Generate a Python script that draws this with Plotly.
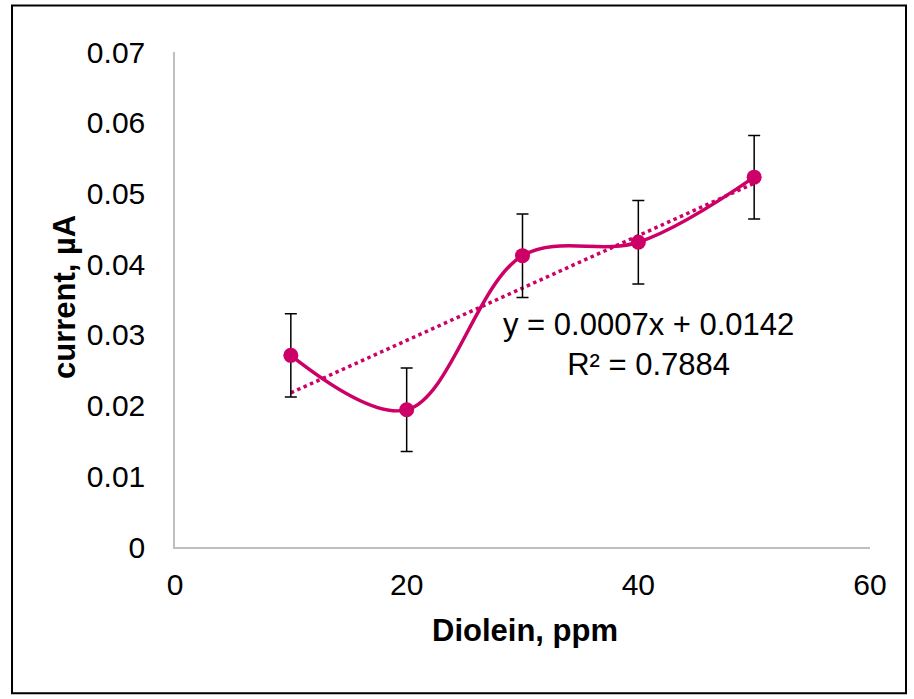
import numpy as np
import plotly.graph_objects as go

x_ppm = [10, 20, 30, 40, 50]
current = [0.0271, 0.0194, 0.0412, 0.0431, 0.0523]
err = [0.0059, 0.0059, 0.0059, 0.0059, 0.0059]
y_ticks = [0, 0.01, 0.02, 0.03, 0.04, 0.05, 0.06, 0.07]
y_ticktext = ["0", "0.01", "0.02", "0.03", "0.04", "0.05", "0.06", "0.07"]
x_ticks = [0, 20, 40, 60]

color = "#CC0066"
font = "Liberation Sans, Arial, sans-serif"

slope, intercept = np.polyfit(x_ppm, current, 1)
trend_x = [x_ppm[0], x_ppm[-1]]
trend_y = [slope * v + intercept for v in trend_x]

fig = go.Figure()
fig.add_trace(go.Scatter(x=trend_x, y=trend_y, mode="lines",
                         line=dict(color=color, width=3.5, dash="dot"),
                         showlegend=False, hoverinfo="skip"))
fig.add_trace(go.Scatter(x=x_ppm, y=current, mode="lines+markers",
                         line=dict(color=color, width=3.5, shape="spline", smoothing=1.0),
                         marker=dict(color=color, size=15),
                         error_y=dict(type="data", array=err, color="black",
                                      thickness=1.5, width=6),
                         showlegend=False))

fig.add_annotation(x=0.681, y=0.41, xref="paper", yref="paper",
                   xanchor="center", yanchor="middle",
                   text="y = 0.0007x + 0.0142<br>R² = 0.7884",
                   showarrow=False, align="center",
                   font=dict(family=font, size=31, color="black"))

# axis titles
fig.add_annotation(x=0.5036, y=-0.168, xref="paper", yref="paper",
                   xanchor="center", yanchor="middle",
                   text="<b>Diolein, ppm</b>", showarrow=False,
                   font=dict(family=font, size=31, color="black"))
fig.add_annotation(x=-0.1597, y=0.505, xref="paper", yref="paper",
                   xanchor="center", yanchor="middle", textangle=-90,
                   text="<b>current, µA</b>", showarrow=False,
                   font=dict(family=font, size=31, color="black"))

fig.add_shape(type="rect", xref="paper", yref="paper",
              x0=-0.2345, x1=1.0518, y0=-0.2955, y1=1.094,
              line=dict(color="black", width=2))

fig.update_layout(
    width=914, height=699,
    margin=dict(l=175, r=44, t=52, b=152),
    plot_bgcolor="white", paper_bgcolor="white",
    font=dict(family=font, size=30, color="black"),
    xaxis=dict(range=[0, 60], tickvals=x_ticks, showgrid=False, zeroline=False,
               showline=True, linecolor="#BFBFBF", linewidth=1.5,
               ticks="", ticklabelstandoff=10,
               tickfont=dict(family=font, size=30)),
    yaxis=dict(range=[0, 0.07], tickvals=y_ticks, ticktext=y_ticktext,
               showgrid=False, zeroline=False,
               showline=True, linecolor="#BFBFBF", linewidth=1.5,
               ticks="", ticklabelstandoff=22,
               tickfont=dict(family=font, size=30)),
)

fig.write_html("out.html")
